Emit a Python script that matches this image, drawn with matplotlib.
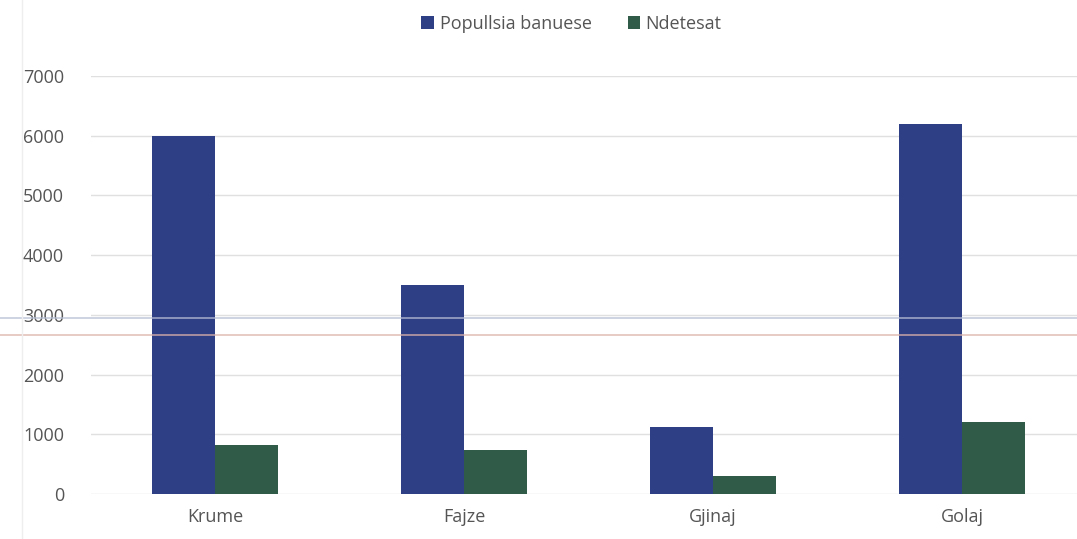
import numpy as np
import matplotlib.pyplot as plt
from matplotlib.lines import Line2D

plt.rcParams['font.family'] = ['Open Sans', 'DejaVu Sans']

villages = ['Krume', 'Fajze', 'Gjinaj', 'Golaj']
popullsia = [6000, 3500, 1120, 6200]
ndetesat = [820, 740, 300, 1200]
yticks = [0, 1000, 2000, 3000, 4000, 5000, 6000, 7000]

blue = '#2f3f86'
green = '#2f5b48'
grey_txt = '#555555'

W, H = 1077, 539
fig = plt.figure(figsize=(W / 100, H / 100), dpi=100)
ax = fig.add_axes([90.5 / W, 45 / H, 996 / W, 418 / H])

x = np.arange(len(villages))
bw = 0.253
ax.bar(x - bw / 2, popullsia, bw, color=blue, label='Popullsia banuese', zorder=3)
ax.bar(x + bw / 2, ndetesat, bw, color=green, label='Ndetesat', zorder=3)

ax.set_xlim(-0.5, 3.5)
ax.set_ylim(0, 7000)
ax.set_yticks(yticks)
ax.set_xticks(x)
ax.set_xticklabels(villages)
ax.tick_params(length=0, labelsize=13, colors=grey_txt)
ax.tick_params(axis='y', pad=19)
ax.tick_params(axis='x', pad=10)
ax.grid(axis='y', color='#e0e0e0', linewidth=1, zorder=0)
for s in ax.spines.values():
    s.set_visible(False)

leg = ax.legend(loc='upper center', bbox_to_anchor=(0.483, 1.185), ncol=2, frameon=False,
                fontsize=13, handlelength=0.7, handleheight=0.7, handletextpad=0.3,
                columnspacing=2.0, labelcolor=grey_txt)

# scan artefacts
fig.add_artist(Line2D([0, 1], [1 - 318 / H, 1 - 318 / H], color='#b8bfd6', lw=1.2, alpha=0.8))
fig.add_artist(Line2D([0, 1], [1 - 335 / H, 1 - 335 / H], color='#dcb3aa', lw=1.2, alpha=0.8))
fig.add_artist(Line2D([22 / W, 22 / W], [0, 1], color='#eeeeee', lw=1))

fig.savefig('out.png', dpi=100)
